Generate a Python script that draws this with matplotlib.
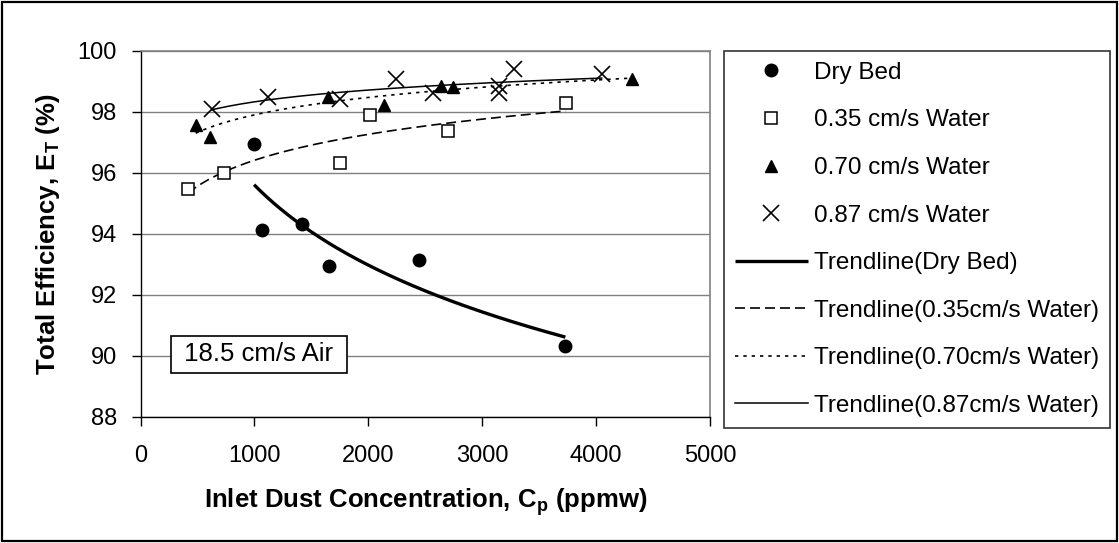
import numpy as np
import matplotlib
matplotlib.use("Agg")
import matplotlib.pyplot as plt
from matplotlib.patches import Rectangle

plt.rcParams['font.family'] = ['Liberation Sans', 'DejaVu Sans']
plt.rcParams['mathtext.fontset'] = 'custom'
plt.rcParams['mathtext.rm'] = 'Liberation Sans:bold'
plt.rcParams['mathtext.bf'] = 'Liberation Sans:bold'

# ---- data ----
dry_x = [997, 1064, 1415, 1655, 2448, 3730]
dry_y = [96.93, 94.12, 94.31, 92.94, 93.13, 90.32]

w035_x = [417, 736, 1752, 2015, 2703, 3733]
w035_y = [95.48, 96.00, 96.33, 97.90, 97.37, 98.30]

w070_x = [484, 610, 1646, 2138, 2635, 2747, 4315]
w070_y = [97.56, 97.16, 98.47, 98.22, 98.85, 98.82, 99.06]

w087_x = [625, 1122, 1752, 2243, 2571, 3145, 3145, 3282, 4049]
w087_y = [98.09, 98.47, 98.41, 99.07, 98.60, 98.84, 98.62, 99.39, 99.23]

x_ticks = [0, 1000, 2000, 3000, 4000, 5000]
y_ticks = [88, 90, 92, 94, 96, 98, 100]

series_labels = ["Dry Bed", "0.35 cm/s Water", "0.70 cm/s Water", "0.87 cm/s Water"]
trend_labels = ["Trendline(Dry Bed)", "Trendline(0.35cm/s Water)",
                "Trendline(0.70cm/s Water)", "Trendline(0.87cm/s Water)"]
note_text = " 18.5 cm/s Air "


def log_trend(x, y, n=200):
    x = np.asarray(x, float)
    b, a = np.polyfit(np.log(x), np.asarray(y, float), 1)
    xs = np.linspace(x.min(), x.max(), n)
    return xs, a + b * np.log(xs)


W, H = 1119, 543
fig = plt.figure(figsize=(W / 100, H / 100), dpi=100)
ax = fig.add_axes([140.5 / W, 1 - 416.7 / H, (710 - 140.5) / W, (416.7 - 50.7) / H])

# trendlines
tx, ty = log_trend(dry_x, dry_y)
l_t0, = ax.plot(tx, ty, color='black', lw=2.4, solid_capstyle='butt', zorder=3)
tx, ty = log_trend(w035_x, w035_y)
l_t1, = ax.plot(tx, ty, color='black', lw=1.2, linestyle=(0, (6, 3)), zorder=3)
tx, ty = log_trend(w070_x, w070_y)
l_t2, = ax.plot(tx, ty, color='black', lw=1.2, linestyle=(0, (2, 3)), zorder=3)
tx, ty = log_trend(w087_x, w087_y)
l_t3, = ax.plot(tx, ty, color='black', lw=1.1, zorder=3)

# markers
m0, = ax.plot(dry_x, dry_y, 'o', color='black', ms=9, ls='none', zorder=4)
m1, = ax.plot(w035_x, w035_y, 's', mfc='white', mec='black', mew=1.1, ms=9, ls='none', zorder=4)
m2, = ax.plot(w070_x, w070_y, '^', color='black', ms=9, ls='none', zorder=4)
m3, = ax.plot(w087_x, w087_y, 'x', color='black', mew=1.2, ms=12, ls='none', zorder=4)

ax.set_xlim(0, 5000)
ax.set_ylim(88, 100)
ax.set_xticks(x_ticks)
ax.set_yticks(y_ticks)
ax.grid(axis='y', color='#808080', lw=1.0)
ax.set_axisbelow(True)

for s in ('top', 'right'):
    ax.spines[s].set_color('#808080')
    ax.spines[s].set_linewidth(1.2)
for s in ('left', 'bottom'):
    ax.spines[s].set_color('black')
    ax.spines[s].set_linewidth(1.0)

ax.tick_params(axis='both', direction='out', length=6.5, width=1.0, labelsize=17)
ax.tick_params(axis='y', pad=10.5)
ax.tick_params(axis='x', pad=14)

ax.set_xlabel(r"Inlet Dust Concentration, C$_\mathrm{p}$ (ppmw)", fontsize=18.5, fontweight='bold')
ax.set_ylabel(r"Total Efficiency, E$_\mathrm{T}$ (%)", fontsize=18.5, fontweight='bold')
ax.xaxis.set_label_coords(0.5, -(502 - 416.7) / (416.7 - 50.7), transform=ax.transAxes)
ax.yaxis.set_label_coords(-(140.5 - 48.5) / (710 - 140.5), 0.5, transform=ax.transAxes)
ax.xaxis.label.set_va('center')
ax.yaxis.label.set_va('center')

ax.text(1040, 90.05, note_text, fontsize=18.5, ha='center', va='center', zorder=5,
        bbox=dict(boxstyle='square,pad=0.25', fc='white', ec='black', lw=1.2))

leg = fig.legend([m0, m1, m2, m3, l_t0, l_t1, l_t2, l_t3],
                 series_labels + trend_labels,
                 loc='upper left', bbox_to_anchor=(724 / W, 1 - 51 / H),
                 fontsize=17.5, frameon=True, fancybox=False, shadow=False,
                 borderaxespad=0, borderpad=0.45, handlelength=3.0,
                 handletextpad=0.27, labelspacing=1.05, edgecolor='black')
leg.get_frame().set_linewidth(1.2)

fig.patches.append(Rectangle((2 / W, 2 / H), 1 - 4 / W, 1 - 4 / H, transform=fig.transFigure,
                             fill=False, ec='black', lw=1.6))

fig.savefig('out.png', dpi=100)
